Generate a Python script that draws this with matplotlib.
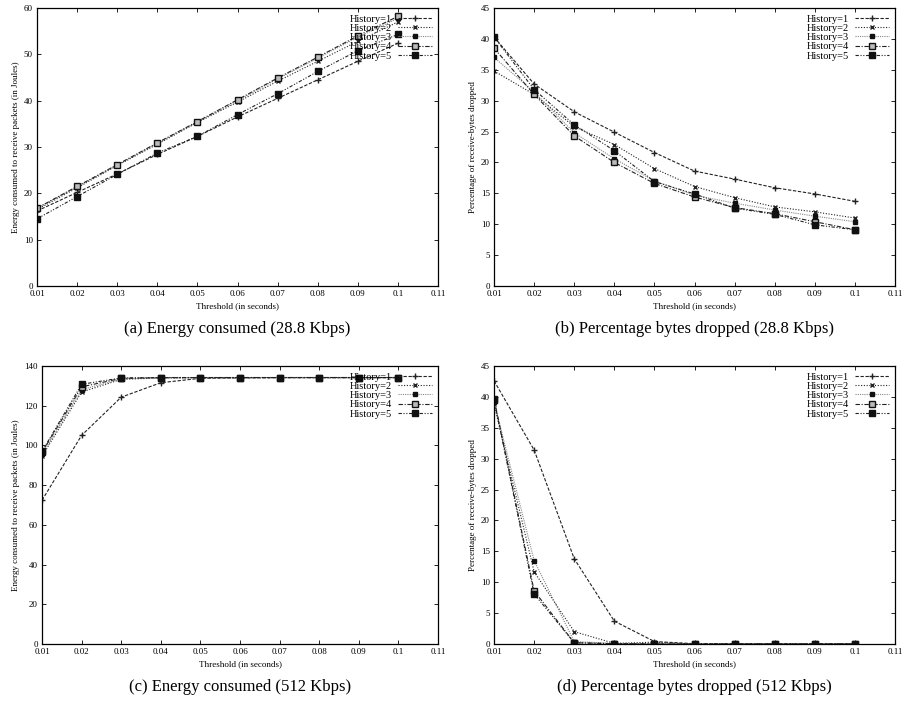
import matplotlib.pyplot as plt

plt.rcParams['font.family'] = ['Liberation Serif', 'DejaVu Serif']

# ---------------- data ----------------
threshold = [0.01, 0.02, 0.03, 0.04, 0.05, 0.06, 0.07, 0.08, 0.09, 0.1]
labels = ['History=1', 'History=2', 'History=3', 'History=4', 'History=5']

# energy consumed, 28.8 Kbps
energy_288 = [
    [16.2, 20.2, 24.2, 28.4, 32.3, 36.5, 40.5, 44.5, 48.5, 52.4],
    [16.5, 21.2, 26.0, 30.6, 35.3, 39.7, 44.2, 48.5, 52.8, 57.0],
    [16.8, 21.4, 26.1, 30.8, 35.4, 40.0, 44.7, 49.2, 53.7, 57.8],
    [16.8, 21.5, 26.2, 30.9, 35.5, 40.2, 44.9, 49.4, 54.0, 58.2],
    [14.5, 19.3, 24.1, 28.7, 32.3, 37.0, 41.5, 46.3, 50.8, 54.3],
]

# bytes dropped, 28.8 Kbps
dropped_288 = [
    [40.3, 32.7, 28.2, 24.9, 21.6, 18.6, 17.3, 15.9, 14.9, 13.7],
    [34.8, 31.0, 25.8, 22.9, 19.0, 16.1, 14.3, 12.8, 12.0, 11.0],
    [37.0, 31.4, 24.8, 20.6, 17.0, 14.7, 13.4, 12.3, 11.3, 10.4],
    [38.5, 31.0, 24.3, 20.0, 16.6, 14.4, 12.7, 11.7, 10.4, 9.1],
    [40.3, 31.8, 26.1, 21.9, 16.9, 14.9, 12.6, 11.6, 9.9, 9.1],
]

# energy consumed, 512 Kbps
energy_512 = [
    [72.4, 105.1, 124.3, 131.6, 133.8, 134.0, 134.1, 134.1, 134.1, 134.1],
    [94.6, 126.9, 133.3, 134.0, 134.1, 134.1, 134.2, 134.2, 134.2, 134.2],
    [95.5, 128.1, 133.5, 134.0, 134.1, 134.1, 134.2, 134.2, 134.2, 134.2],
    [96.5, 129.5, 133.8, 134.1, 134.2, 134.2, 134.2, 134.2, 134.2, 134.2],
    [97.0, 130.8, 134.0, 134.2, 134.2, 134.2, 134.2, 134.2, 134.2, 134.2],
]

# bytes dropped, 512 Kbps
dropped_512 = [
    [42.6, 31.4, 13.8, 3.7, 0.4, 0.05, 0.05, 0.05, 0.05, 0.05],
    [38.8, 11.7, 2.0, 0.1, 0.3, 0.0, 0.0, 0.0, 0.0, 0.0],
    [39.2, 13.5, 0.4, 0.1, 0.05, 0.0, 0.0, 0.0, 0.0, 0.0],
    [39.7, 8.6, 0.2, 0.05, 0.0, 0.0, 0.0, 0.0, 0.0, 0.0],
    [39.5, 8.1, 0.2, 0.05, 0.0, 0.0, 0.0, 0.0, 0.0, 0.0],
]

# ---------------- styles (gnuplot-ish) ----------------
styles = [
    dict(color='#222222', linestyle=(0, (3, 1.5)), marker='+', markersize=4, mfc='none'),
    dict(color='#222222', linestyle=(0, (1, 1.5)), marker='x', markersize=3.5, mfc='none'),
    dict(color='#888888', linestyle=(0, (1, 1)), marker='s', markersize=3, mfc='#111111', mec='#111111'),
    dict(color='#222222', linestyle=(0, (4, 1.5, 1, 1.5)), marker='s', markersize=4.5,
         mfc='#bbbbbb', mec='#111111'),
    dict(color='#222222', linestyle=(0, (3, 1.5, 1, 1.5, 1, 1.5)), marker='s', markersize=4,
         mfc='#111111', mec='#111111'),
]


def draw_panel(ax, series, ymax, ystep, ylabel, caption):
    for vals, lab, st in zip(series, labels, styles):
        ax.plot(threshold, vals, label=lab, linewidth=0.8, **st)

    ax.set_xlim(0.01, 0.11)
    ax.set_ylim(0, ymax)
    ax.set_xticks([0.01, 0.02, 0.03, 0.04, 0.05, 0.06, 0.07, 0.08, 0.09, 0.1, 0.11])
    ax.set_xticklabels(['0.01', '0.02', '0.03', '0.04', '0.05', '0.06',
                        '0.07', '0.08', '0.09', '0.1', '0.11'])
    ax.set_yticks(range(0, ymax + 1, ystep))
    ax.tick_params(direction='in', top=True, right=True, labelsize=6.5,
                   length=3, width=0.6, pad=3)
    for sp in ax.spines.values():
        sp.set_linewidth(0.9)

    ax.set_xlabel('Threshold (in seconds)', fontsize=6.5, labelpad=3)
    ax.set_ylabel(ylabel, fontsize=6.5, labelpad=3)

    ax.legend(loc='upper right', frameon=False, fontsize=7.5, markerfirst=False,
              handlelength=3.2, handletextpad=0.6, labelspacing=0.0,
              borderaxespad=0.2)

    pos = ax.get_position()
    fig.text(pos.x0 + pos.width / 2, pos.y0 - 0.061, caption,
             ha='center', va='center', fontsize=12)


fig = plt.figure(figsize=(9.04, 7.07), dpi=100)

ax_a = fig.add_axes([0.041, 0.5955, 0.4436, 0.3932])
ax_b = fig.add_axes([0.5465, 0.5955, 0.4436, 0.3932])
ax_c = fig.add_axes([0.0465, 0.0891, 0.438, 0.3932])
ax_d = fig.add_axes([0.5465, 0.0891, 0.4436, 0.3932])

draw_panel(ax_a, energy_288, 60, 10,
           'Energy consumed to receive packets (in Joules)',
           '(a) Energy consumed (28.8 Kbps)')
draw_panel(ax_b, dropped_288, 45, 5,
           'Percentage of receive-bytes dropped',
           '(b) Percentage bytes dropped (28.8 Kbps)')
draw_panel(ax_c, energy_512, 140, 20,
           'Energy consumed to receive packets (in Joules)',
           '(c) Energy consumed (512 Kbps)')
draw_panel(ax_d, dropped_512, 45, 5,
           'Percentage of receive-bytes dropped',
           '(d) Percentage bytes dropped (512 Kbps)')

plt.savefig('out.png', dpi=100)
